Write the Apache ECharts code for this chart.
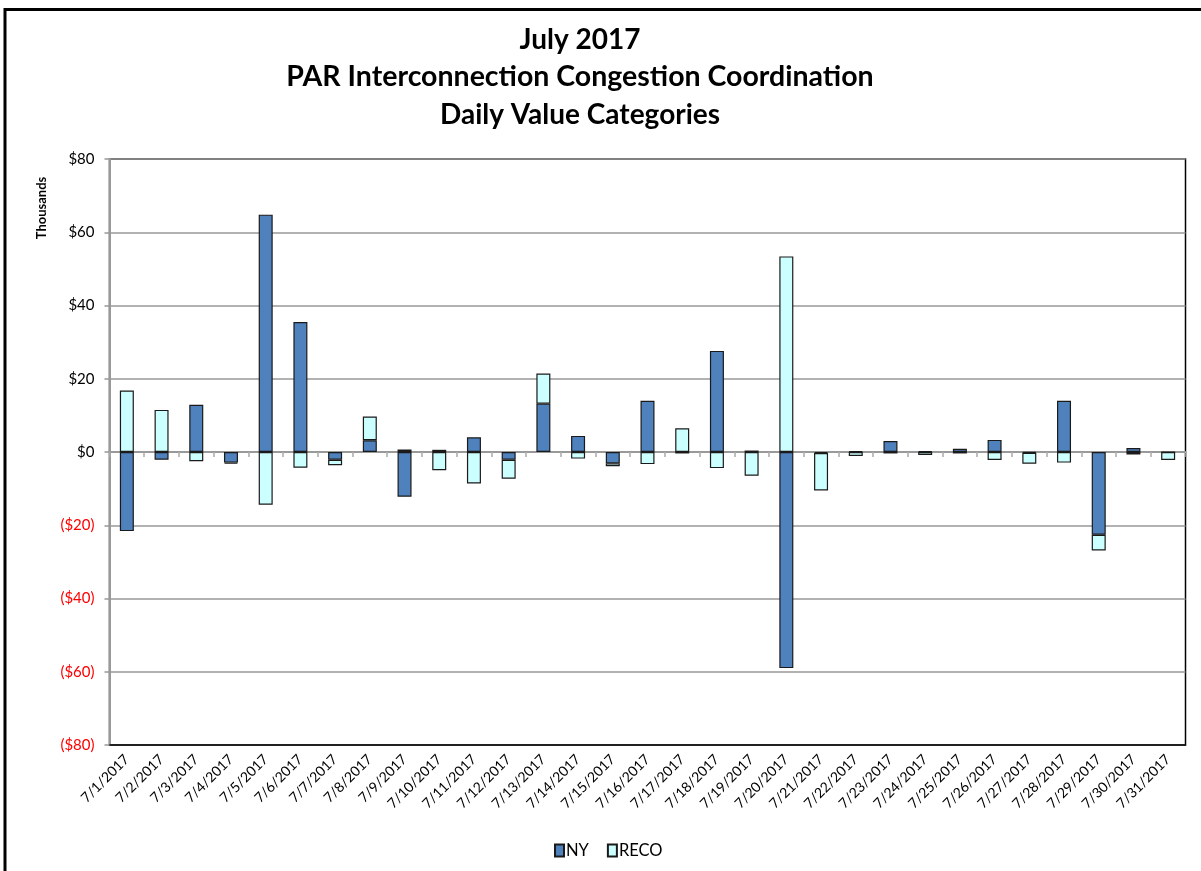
<!DOCTYPE html>
<html>
<head>
<meta charset="utf-8">
<script src="https://cdn.jsdelivr.net/npm/echarts@6/dist/echarts.min.js"></script>
<style>html,body{margin:0;padding:0;background:#fff;}#c{width:1201px;height:871px;}</style>
</head>
<body>
<div id="c"></div>
<script>
const categories = ['7/1/2017','7/2/2017','7/3/2017','7/4/2017','7/5/2017','7/6/2017','7/7/2017','7/8/2017','7/9/2017','7/10/2017','7/11/2017','7/12/2017','7/13/2017','7/14/2017','7/15/2017','7/16/2017','7/17/2017','7/18/2017','7/19/2017','7/20/2017','7/21/2017','7/22/2017','7/23/2017','7/24/2017','7/25/2017','7/26/2017','7/27/2017','7/28/2017','7/29/2017','7/30/2017','7/31/2017'];
const nyValues = [-21.6,-2.1,12.9,-2.9,64.8,35.5,-2.1,3.2,-12.2,0.6,4.0,-2.1,13.2,4.4,-3.1,14.0,-0.4,27.6,0.4,-59.0,-0.3,0.2,3.0,0.2,0.9,3.3,-0.2,14.0,-22.6,1.1,0.0];
const recoValues = [16.8,11.5,-2.5,-0.3,-14.4,-4.3,-1.5,6.5,0.7,-5.0,-8.6,-5.2,8.2,-1.8,-0.8,-3.3,6.5,-4.4,-6.5,53.4,-10.2,-1.1,-0.4,-0.8,-0.4,-2.2,-3.0,-2.9,-4.3,-0.7,-2.2];
const yTicks = {min:-80, max:80, interval:20};
const titleLines = ['July 2017','PAR Interconnection Congestion Coordination','Daily Value Categories'];

const chart = echarts.init(document.getElementById('c'), null, {renderer:'canvas'});
const FONT = 'Lato, "Open Sans", sans-serif';
chart.setOption({
  animation:false,
  backgroundColor:'#fff',
  graphic:[
    {type:'rect', shape:{x:5, y:9.5, width:1400, height:1200}, style:{fill:'none', stroke:'#000', lineWidth:3}, z:100},
    {type:'text', x:580, y:40, style:{text:titleLines[0], font:'bold 28px '+FONT, fill:'#000', textAlign:'center', textVerticalAlign:'middle'}},
    {type:'text', x:580, y:77, style:{text:titleLines[1], font:'bold 28.5px '+FONT, fill:'#000', textAlign:'center', textVerticalAlign:'middle'}},
    {type:'text', x:580, y:115, style:{text:titleLines[2], font:'bold 28px '+FONT, fill:'#000', textAlign:'center', textVerticalAlign:'middle'}},
    {type:'text', x:42, y:208, rotation:Math.PI/2, style:{text:'Thousands', font:'bold 13px '+FONT, fill:'#000', textAlign:'center', textVerticalAlign:'middle'}}
  ],
  legend:{
    bottom:7, left:549,
    itemWidth:9, itemHeight:12, itemGap:18,
    icon:'rect',
    textStyle:{fontFamily:FONT, fontSize:16.5, color:'#000', padding:[0,0,0,-3]},
    data:['NY','RECO']
  },
  grid:{left:109.5, right:15.5, top:159, bottom:126, show:true, borderColor:'#000', borderWidth:1.5, backgroundColor:'#fff'},
  xAxis:[
    {type:'category', data:categories, position:'bottom',
     axisLine:{show:true, onZero:false, lineStyle:{color:'#000', width:1.5}},
     axisTick:{show:false},
     axisLabel:{rotate:45, fontFamily:FONT, fontSize:14, color:'#000', margin:12, interval:0, padding:[0,0,0,6]},
     splitLine:{show:false}},
    {type:'category', data:categories, position:'top',
     axisLine:{show:true, onZero:true, lineStyle:{color:'#999', width:2}},
     axisTick:{show:true, inside:true, length:5, lineStyle:{color:'#aaa', width:1.5}, interval:0},
     axisLabel:{show:false},
     splitLine:{show:false}}
  ],
  yAxis:{
    type:'value', min:yTicks.min, max:yTicks.max, interval:yTicks.interval,
    axisLine:{show:true, lineStyle:{color:'#999', width:2}},
    axisTick:{show:true, length:5, lineStyle:{color:'#999', width:1.5}},
    splitLine:{show:true, lineStyle:{color:'#999', width:1.5}},
    axisLabel:{fontFamily:FONT, fontSize:15, margin:15,
      color:function(v){ return Number(v) < 0 ? '#ff0000' : '#000'; },
      formatter:function(v){ return v < 0 ? '($' + (-v) + ')' : '$' + v; }}
  },
  series:[
    {name:'NY', type:'bar', stack:'total', xAxisIndex:0, data:nyValues, barWidth:14,
     itemStyle:{color:'#4F81BD', borderColor:'#1a1a1a', borderWidth:1.2}},
    {name:'RECO', type:'bar', stack:'total', xAxisIndex:0, data:recoValues, barWidth:14,
     itemStyle:{color:'#CCFFFF', borderColor:'#1a1a1a', borderWidth:1.2}}
  ]
});
</script>
</body>
</html>
